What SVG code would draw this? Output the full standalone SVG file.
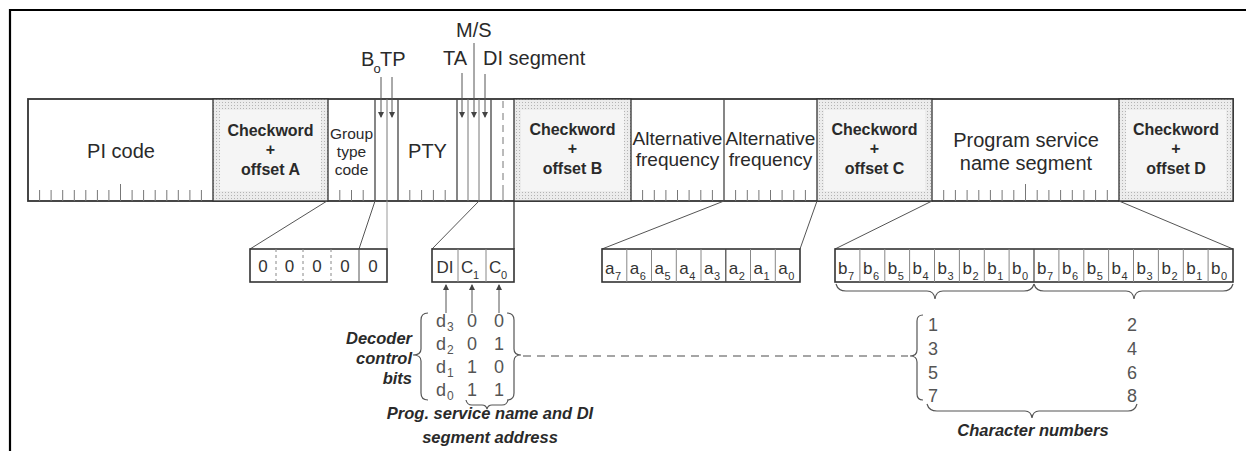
<svg xmlns="http://www.w3.org/2000/svg" width="1246" height="451" viewBox="0 0 1246 451">
<style>
text{font-family:"Liberation Sans",Arial,sans-serif;fill:#2a2a2a}
.cw{font-weight:bold;font-size:16px;text-anchor:middle}
.fld{font-size:19px;text-anchor:middle}
.lbl{font-size:20px}
.bi{font-weight:bold;font-style:italic;font-size:16.5px}
.mx{font-size:18px;fill:#555}
.ms{font-size:12px;fill:#555}
.cell{font-size:17px;fill:#333}
.sub{font-size:11px;fill:#333}
.bar{fill:#fff;stroke:#333;stroke-width:1.8}
.div{stroke:#444;stroke-width:1.3}
.divl{stroke:#777;stroke-width:1}
.tick{stroke:#777;stroke-width:1}
.box{fill:#fff;stroke:#333;stroke-width:1.6}
.con{stroke:#555;stroke-width:1;fill:none}
.arr{stroke:#555;stroke-width:1;fill:none;marker-end:url(#ah)}
.brace{stroke:#555;stroke-width:1.2;fill:none}
</style>
<defs>
<pattern id="dots" width="3" height="3" patternUnits="userSpaceOnUse"><rect width="3" height="3" fill="#ececec"/><rect width="1" height="1" fill="#b4b4b4"/></pattern>
<marker id="ah" markerWidth="6" markerHeight="8" refX="5" refY="3" orient="auto" markerUnits="userSpaceOnUse"><path d="M0,0 L6,3 L0,6 Z" fill="#444"/></marker>
</defs>

<path d="M10,451 V10 H1246" fill="none" stroke="#000" stroke-width="2.2"/>

<g id="block-bar">
<rect class="bar" x="28" y="99" width="1205" height="102"/>
</g>

<g id="pi-code">
<text class="fld" x="121" y="158" style="font-size:20px">PI code</text>
<path class="tick" d="M39.6,190V201M51.1,190V201M62.7,190V201M74.3,190V201M85.8,190V201M97.4,190V201M108.9,190V201M120.5,184V201M132.1,190V201M143.6,190V201M155.2,190V201M166.8,190V201M178.3,190V201M189.9,190V201M201.4,190V201"/>
</g>

<g id="checkword-a">
<rect x="213" y="99" width="115" height="102" fill="url(#dots)" stroke="#333" stroke-width="1.3"/>
<rect x="220" y="110" width="101" height="81" fill="#f5f5f5"/>
<text class="cw" x="270.5" y="136">Checkword</text>
<text class="cw" x="270.5" y="155">+</text>
<text class="cw" x="270.5" y="175">offset A</text>
</g>

<g id="group-type-code">
<text x="351.5" y="139" style="font-size:15.5px;text-anchor:middle">Group</text>
<text x="351.5" y="157" style="font-size:15.5px;text-anchor:middle">type</text>
<text x="351.5" y="175" style="font-size:15.5px;text-anchor:middle">code</text>
<path class="tick" d="M339.8,190V201M351.5,190V201M363.2,190V201"/>
<line class="div" x1="375" y1="99" x2="375" y2="201"/>
</g>

<g id="b0-tp">
<line class="divl" x1="387" y1="99" x2="387" y2="201"/>
<line class="div" x1="398" y1="99" x2="398" y2="201"/>
<text class="lbl" x="361" y="66">B</text>
<text x="373.5" y="73" style="font-size:13px">o</text>
<text class="lbl" x="380" y="66">TP</text>
<line class="arr" x1="381" y1="77" x2="381" y2="117"/>
<line class="arr" x1="392" y1="77" x2="392" y2="117"/>
</g>

<g id="pty">
<text class="fld" x="427.5" y="158" style="font-size:20px">PTY</text>
<path class="tick" d="M409.8,190V201M421.6,190V201M433.4,190V201M445.2,190V201"/>
<line class="div" x1="457" y1="99" x2="457" y2="201"/>
</g>

<g id="ta-ms-di">
<line class="divl" x1="468" y1="99" x2="468" y2="201"/>
<line class="divl" x1="479" y1="99" x2="479" y2="201"/>
<line class="div" x1="491" y1="99" x2="491" y2="201"/>
<line x1="503" y1="101" x2="503" y2="190" stroke="#777" stroke-width="1" stroke-dasharray="7,5"/>
<line class="tick" x1="503" y1="190" x2="503" y2="201"/>
<text class="lbl" x="443" y="65">TA</text>
<text class="lbl" x="456" y="37">M/S</text>
<text class="lbl" x="483" y="65">DI segment</text>
<line class="arr" x1="462" y1="73" x2="462" y2="117"/>
<line class="arr" x1="474" y1="43" x2="474" y2="117"/>
<line class="arr" x1="485" y1="74" x2="485" y2="117"/>
</g>

<g id="checkword-b">
<rect x="514" y="99" width="117" height="102" fill="url(#dots)" stroke="#333" stroke-width="1.3"/>
<rect x="521" y="110" width="103" height="81" fill="#f5f5f5"/>
<text class="cw" x="572.5" y="135">Checkword</text>
<text class="cw" x="572.5" y="154">+</text>
<text class="cw" x="572.5" y="174">offset B</text>
</g>

<g id="alt-freq-1">
<text class="fld" x="677.5" y="145">Alternative</text>
<text class="fld" x="677.5" y="166">frequency</text>
<path class="tick" d="M642.6,190V201M654.3,190V201M665.9,190V201M677.5,190V201M689.1,190V201M700.8,190V201M712.4,190V201"/>
<line class="div" x1="724" y1="99" x2="724" y2="201"/>
</g>

<g id="alt-freq-2">
<text class="fld" x="770.5" y="145">Alternative</text>
<text class="fld" x="770.5" y="166">frequency</text>
<path class="tick" d="M735.6,190V201M747.3,190V201M758.9,190V201M770.5,190V201M782.1,190V201M793.8,190V201M805.4,190V201"/>
</g>

<g id="checkword-c">
<rect x="817" y="99" width="115" height="102" fill="url(#dots)" stroke="#333" stroke-width="1.3"/>
<rect x="824" y="110" width="101" height="81" fill="#f5f5f5"/>
<text class="cw" x="874.5" y="135">Checkword</text>
<text class="cw" x="874.5" y="154">+</text>
<text class="cw" x="874.5" y="174">offset C</text>
</g>

<g id="ps-name-segment">
<text class="fld" x="1026" y="147" style="font-size:20px">Program service</text>
<text class="fld" x="1026" y="170" style="font-size:20px">name segment</text>
<path class="tick" d="M943.7,190V201M955.4,190V201M967.1,190V201M978.8,190V201M990.4,190V201M1002.1,190V201M1013.8,190V201M1025.5,184V201M1037.2,190V201M1048.9,190V201M1060.6,190V201M1072.3,190V201M1083.9,190V201M1095.6,190V201M1107.3,190V201"/>
</g>

<g id="checkword-d">
<rect x="1119" y="99" width="114" height="102" fill="url(#dots)" stroke="#333" stroke-width="1.3"/>
<rect x="1126" y="110" width="100" height="81" fill="#f5f5f5"/>
<text class="cw" x="1176" y="135">Checkword</text>
<text class="cw" x="1176" y="154">+</text>
<text class="cw" x="1176" y="174">offset D</text>
</g>

<g id="connectors">
<line class="con" x1="327" y1="201" x2="250" y2="249"/>
<line class="con" x1="375" y1="201" x2="359" y2="249"/>
<line x1="387" y1="201" x2="387" y2="249" stroke="#999" stroke-width="1"/>
<line class="con" x1="479" y1="201" x2="432" y2="249"/>
<line x1="514" y1="201" x2="514" y2="249" stroke="#333" stroke-width="1.3"/>
<line class="con" x1="724" y1="201" x2="602" y2="249"/>
<line class="con" x1="817" y1="201" x2="800" y2="249"/>
<line class="con" x1="932" y1="201" x2="835" y2="249"/>
<line class="con" x1="1119" y1="201" x2="1233" y2="249"/>
<line class="arr" x1="446" y1="313" x2="446" y2="285"/>
<line class="arr" x1="472" y1="313" x2="472" y2="285"/>
<line class="arr" x1="499" y1="313" x2="499" y2="285"/>
<line x1="523" y1="356" x2="908" y2="356" stroke="#888" stroke-width="1.3" stroke-dasharray="8,6"/>
</g>

<g id="group-type-bits">
<rect class="box" x="250" y="249" width="137" height="33"/>
<path d="M276,249V282M303,249V282M331,249V282" stroke="#888" stroke-width="1" stroke-dasharray="3,3"/>
<line x1="359" y1="249" x2="359" y2="282" stroke="#555" stroke-width="1"/>
<text class="cell" x="263" y="272" text-anchor="middle">0</text>
<text class="cell" x="289.5" y="272" text-anchor="middle">0</text>
<text class="cell" x="317" y="272" text-anchor="middle">0</text>
<text class="cell" x="345" y="272" text-anchor="middle">0</text>
<text class="cell" x="373" y="272" text-anchor="middle">0</text>
</g>

<g id="di-c-bits">
<rect class="box" x="432" y="249" width="82" height="33"/>
<path d="M458,249V282M486,249V282" stroke="#888" stroke-width="1"/>
<text class="cell" x="445" y="273" text-anchor="middle">DI</text>
<text class="cell" x="461" y="273">C</text><text class="sub" x="473" y="279">1</text>
<text class="cell" x="489" y="273">C</text><text class="sub" x="501" y="279">0</text>
</g>

<g id="af-bits">
<rect class="box" x="602" y="249" width="198" height="33"/>
<path d="M626.8,249V282M651.5,249V282M676.3,249V282M701,249V282M750.5,249V282M775.3,249V282" stroke="#888" stroke-width="1"/>
<line x1="725.8" y1="249" x2="725.8" y2="282" stroke="#444" stroke-width="1.2"/>
<text class="cell" x="605" y="274">a</text><text class="sub" x="615" y="280">7</text>
<text class="cell" x="629.8" y="274">a</text><text class="sub" x="639.8" y="280">6</text>
<text class="cell" x="654.5" y="274">a</text><text class="sub" x="664.5" y="280">5</text>
<text class="cell" x="679.3" y="274">a</text><text class="sub" x="689.3" y="280">4</text>
<text class="cell" x="704" y="274">a</text><text class="sub" x="714" y="280">3</text>
<text class="cell" x="728.8" y="274">a</text><text class="sub" x="738.8" y="280">2</text>
<text class="cell" x="753.5" y="274">a</text><text class="sub" x="763.5" y="280">1</text>
<text class="cell" x="778.3" y="274">a</text><text class="sub" x="788.3" y="280">0</text>
</g>

<g id="ps-bits">
<rect class="box" x="835" y="249" width="398" height="33"/>
<path d="M859.9,249V282M884.8,249V282M909.6,249V282M934.5,249V282M959.4,249V282M984.3,249V282M1009.1,249V282M1058.9,249V282M1083.8,249V282M1108.6,249V282M1133.5,249V282M1158.4,249V282M1183.3,249V282M1208.1,249V282" stroke="#888" stroke-width="1"/>
<line x1="1034" y1="249" x2="1034" y2="282" stroke="#444" stroke-width="1.2"/>
<text class="cell" x="838" y="274">b</text><text class="sub" x="848" y="280">7</text>
<text class="cell" x="862.9" y="274">b</text><text class="sub" x="872.9" y="280">6</text>
<text class="cell" x="887.8" y="274">b</text><text class="sub" x="897.8" y="280">5</text>
<text class="cell" x="912.6" y="274">b</text><text class="sub" x="922.6" y="280">4</text>
<text class="cell" x="937.5" y="274">b</text><text class="sub" x="947.5" y="280">3</text>
<text class="cell" x="962.4" y="274">b</text><text class="sub" x="972.4" y="280">2</text>
<text class="cell" x="987.3" y="274">b</text><text class="sub" x="997.3" y="280">1</text>
<text class="cell" x="1012.1" y="274">b</text><text class="sub" x="1022.1" y="280">0</text>
<text class="cell" x="1037" y="274">b</text><text class="sub" x="1047" y="280">7</text>
<text class="cell" x="1061.9" y="274">b</text><text class="sub" x="1071.9" y="280">6</text>
<text class="cell" x="1086.8" y="274">b</text><text class="sub" x="1096.8" y="280">5</text>
<text class="cell" x="1111.6" y="274">b</text><text class="sub" x="1121.6" y="280">4</text>
<text class="cell" x="1136.5" y="274">b</text><text class="sub" x="1146.5" y="280">3</text>
<text class="cell" x="1161.4" y="274">b</text><text class="sub" x="1171.4" y="280">2</text>
<text class="cell" x="1186.3" y="274">b</text><text class="sub" x="1196.3" y="280">1</text>
<text class="cell" x="1211.1" y="274">b</text><text class="sub" x="1221.1" y="280">0</text>
<path class="brace" d="M836,284 Q838,291 846,291 L927,291 Q934,291 935,299 Q936,291 943,291 L1024,291 Q1032,291 1034,284"/>
<path class="brace" d="M1034,284 Q1036,291 1044,291 L1126,291 Q1133,291 1134,299 Q1135,291 1142,291 L1223,291 Q1231,291 1233,284"/>
</g>

<g id="decoder-control">
<text class="bi" x="412" y="344" text-anchor="end">Decoder</text>
<text class="bi" x="412" y="364" text-anchor="end">control</text>
<text class="bi" x="412" y="384" text-anchor="end">bits</text>
<path class="brace" d="M428,313 Q421,313 421,320 L421,349 Q421,355 413,355 Q421,355 421,361 L421,393 Q421,400 428,400"/>
<path class="brace" d="M507,313 Q514,313 514,320 L514,349 Q514,355 521,355 Q514,355 514,361 L514,393 Q514,400 507,400"/>
<text class="mx" x="436" y="327">d</text><text class="ms" x="447" y="331">3</text>
<text class="mx" x="472" y="327" text-anchor="middle">0</text><text class="mx" x="499" y="327" text-anchor="middle">0</text>
<text class="mx" x="436" y="350">d</text><text class="ms" x="447" y="354">2</text>
<text class="mx" x="472" y="350" text-anchor="middle">0</text><text class="mx" x="499" y="350" text-anchor="middle">1</text>
<text class="mx" x="436" y="373">d</text><text class="ms" x="447" y="377">1</text>
<text class="mx" x="472" y="373" text-anchor="middle">1</text><text class="mx" x="499" y="373" text-anchor="middle">0</text>
<text class="mx" x="436" y="396">d</text><text class="ms" x="447" y="400">0</text>
<text class="mx" x="472" y="396" text-anchor="middle">1</text><text class="mx" x="499" y="396" text-anchor="middle">1</text>
<path class="brace" d="M466,400 Q467,405 472,405 L482,405 Q486,405 487,409 Q488,405 492,405 L502,405 Q507,405 508,400"/>
<text class="bi" x="490" y="419" text-anchor="middle">Prog. service name and DI</text>
<text class="bi" x="490" y="443" text-anchor="middle">segment address</text>
</g>

<g id="character-numbers">
<path class="brace" d="M923,315 Q917,315 917,321 L917,350 Q917,356 910,356 Q917,356 917,362 L917,394 Q917,400 923,400"/>
<text class="mx" x="928" y="331">1</text><text class="mx" x="1127" y="331">2</text>
<text class="mx" x="928" y="355">3</text><text class="mx" x="1127" y="355">4</text>
<text class="mx" x="928" y="379">5</text><text class="mx" x="1127" y="379">6</text>
<text class="mx" x="928" y="402">7</text><text class="mx" x="1127" y="402">8</text>
<path class="brace" d="M927,404 Q929,411 937,411 L1025,411 Q1031,411 1032,418 Q1033,411 1039,411 L1128,411 Q1135,411 1137,404"/>
<text class="bi" x="1033" y="436" text-anchor="middle">Character numbers</text>
</g>
</svg>
